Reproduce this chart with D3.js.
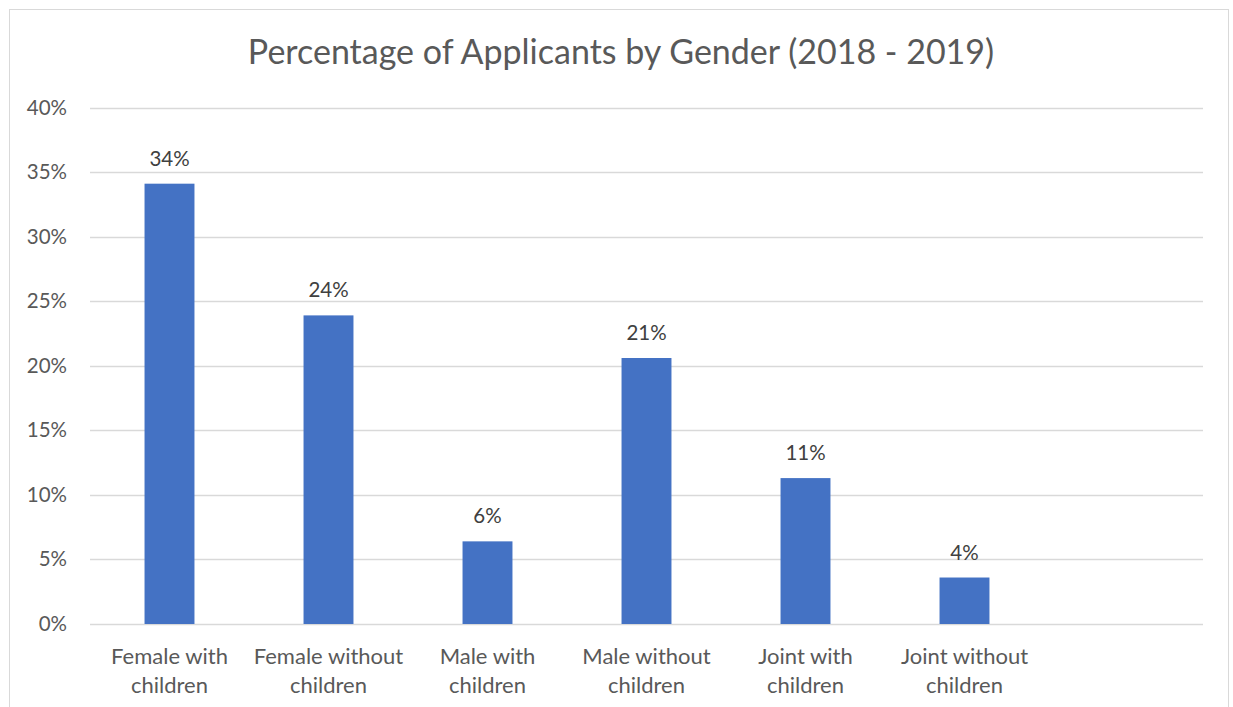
<!DOCTYPE html>
<html>
<head>
<meta charset="utf-8">
<script src="https://cdn.jsdelivr.net/npm/d3@7"></script>
<style>
  html, body { margin: 0; padding: 0; background: #fff; }
  svg { display: block; }
  text { font-family: Lato, "Open Sans", sans-serif; }
</style>
</head>
<body>
<script>
const categories = ["Female with children", "Female without children", "Male with children", "Male without children", "Joint with children", "Joint without children", ""];
const values = [34.1, 23.9, 6.4, 20.6, 11.3, 3.6, null];
const labels = ["34%", "24%", "6%", "21%", "11%", "4%", ""];
const yTicks = [0, 5, 10, 15, 20, 25, 30, 35, 40];
const title = "Percentage of Applicants by Gender (2018 - 2019)";

const W = 1233, H = 707;
const margin = { left: 90, right: 30, top: 107.5, bottom: 83 };

const svg = d3.select("body").append("svg").attr("width", W).attr("height", H);

// chart border
svg.append("rect").attr("x", 9.5).attr("y", 9.5).attr("width", 1219).attr("height", 720)
  .attr("fill", "#fff").attr("stroke", "#d9d9d9").attr("stroke-width", 1);

const x = d3.scaleBand().domain(categories.map((c, i) => i))
  .range([margin.left, 1203]).paddingInner(0.686).paddingOuter(0.343);
const y = d3.scaleLinear().domain([0, 40]).range([624, 107.5]);

// gridlines
svg.append("g").selectAll("line").data(yTicks).join("line")
  .attr("x1", 90).attr("x2", 1203)
  .attr("y1", d => Math.round(y(d)) + 0.5).attr("y2", d => Math.round(y(d)) + 0.5)
  .attr("stroke", "#d9d9d9").attr("stroke-width", 1.3);

// y tick labels
svg.append("g").selectAll("text").data(yTicks).join("text")
  .attr("x", 67).attr("y", d => y(d) + 7)
  .attr("text-anchor", "end").attr("font-size", 20.5).attr("fill", "#595959")
  .text(d => d + "%");

// bars
const data = categories.map((c, i) => ({ i, c, v: values[i], l: labels[i] })).filter(d => d.v != null);
svg.append("g").selectAll("rect").data(data).join("rect")
  .attr("x", d => x(d.i)).attr("width", x.bandwidth())
  .attr("y", d => y(d.v)).attr("height", d => y(0) - y(d.v))
  .attr("fill", "#4472c4");

// data labels
svg.append("g").selectAll("text").data(data).join("text")
  .attr("x", d => x(d.i) + x.bandwidth() / 2).attr("y", d => y(d.v) - 18)
  .attr("text-anchor", "middle").attr("font-size", 20.5).attr("fill", "#404040")
  .text(d => d.l);

// category labels
const cat = svg.append("g").selectAll("text").data(categories.map((c, i) => ({ i, c }))).join("text")
  .attr("text-anchor", "middle").attr("font-size", 22).attr("fill", "#595959")
  .attr("transform", d => `translate(${x(d.i) + x.bandwidth() / 2},0)`);
cat.each(function(d) {
  const words = d.c.split(" ");
  const l1 = words.slice(0, words.length - 1).join(" ");
  const l2 = words[words.length - 1];
  const t = d3.select(this);
  if (!d.c) return;
  t.append("tspan").attr("x", 0).attr("y", 664).text(l1);
  t.append("tspan").attr("x", 0).attr("y", 693).text(l2);
});

// title
svg.append("text").attr("x", 621).attr("y", 64).attr("text-anchor", "middle")
  .attr("font-size", 34).attr("fill", "#595959").text(title);
</script>
</body>
</html>
